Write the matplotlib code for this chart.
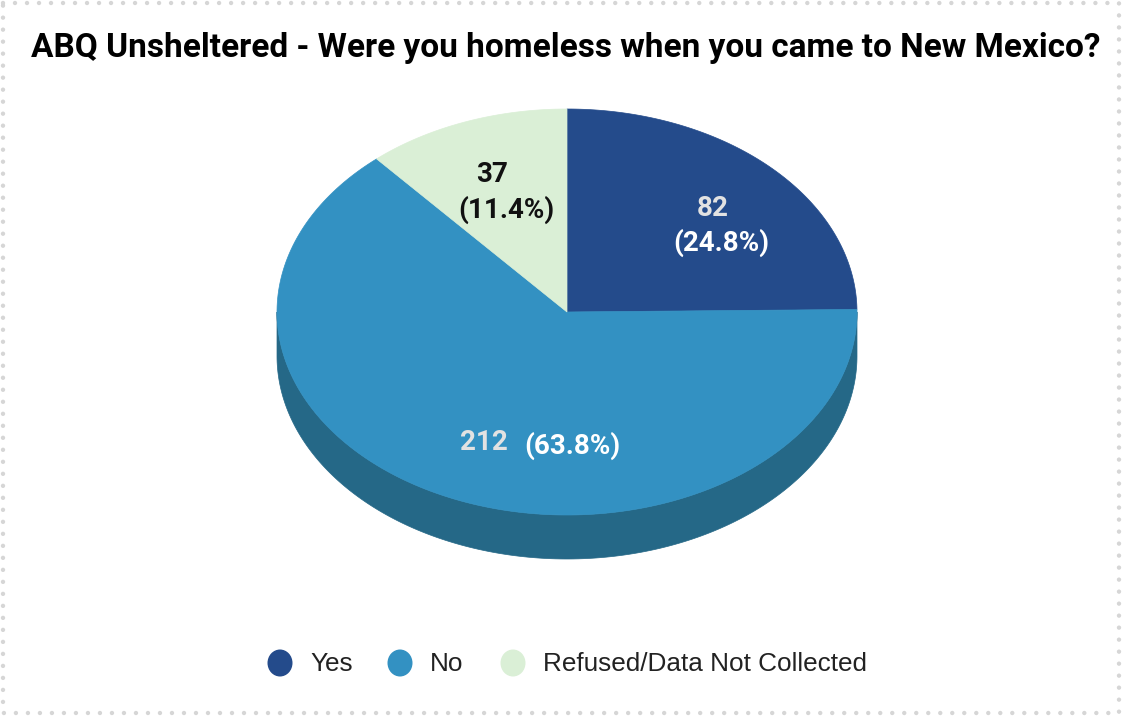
import numpy as np
import matplotlib
matplotlib.use("Agg")
import matplotlib.pyplot as plt
from matplotlib.patches import Polygon, Rectangle, Ellipse

# Survey responses
categories = ["Yes", "No", "Refused/Data Not Collected"]
counts = [82, 212, 37]
percents = [24.8, 63.8, 11.4]
top_colors = ["#244B8B", "#3391C2", "#DAEFD6"]
side_colors = ["#1B3A6C", "#256887", "#A9C2A6"]
value_colors = ["#E2E2E2", "#E2E2E2", "#111111"]
pct_colors = ["#FFFFFF", "#FFFFFF", "#111111"]

W, H = 1122, 717
fig = plt.figure(figsize=(W / 100, H / 100), dpi=100)
ax = fig.add_axes([0, 0, 1, 1])
ax.set_xlim(0, W)
ax.set_ylim(H, 0)
ax.axis("off")

# dotted frame
frame = Rectangle((3, 3), W - 6, H - 7, fill=False, edgecolor="#D6D6D6",
                  linewidth=3.2, linestyle=(0, (0.001, 2.7)))
frame.set_capstyle("round")
ax.add_patch(frame)

ax.text(566, 48, "ABQ Unsheltered - Were you homeless when you came to New Mexico?",
        ha="center", va="center", fontsize=24, fontweight="bold",
        family="Roboto", color="#000000")

# tilted pie geometry (pixels)
cx, cy = 567, 312
rx, ry = 290, 203
depth = 44


def arc(a0, a1, dy=0.0, n=200):
    th = np.linspace(a0, a1, n)
    t = np.radians(th)
    return np.column_stack([cx + rx * np.cos(t), cy - ry * np.sin(t) + dy])


# slice angular spans, clockwise from 12 o'clock
spans = []
start = 90.0
for p in percents:
    end = start - p / 100 * 360
    spans.append((end, start))
    start = end

# side walls on the visible front half (180..360 degrees)
for (a_end, a_start), sc in zip(spans, side_colors):
    for k in (-2, -1, 0, 1):
        lo = max(a_end, -180 + 360 * k)
        hi = min(a_start, 0 + 360 * k)
        if hi > lo:
            top = arc(lo, hi)
            bot = arc(hi, lo, dy=depth)
            ax.add_patch(Polygon(np.vstack([top, bot]), closed=True,
                                 facecolor=sc, edgecolor=sc, linewidth=0.5))

# top faces
for (a_end, a_start), tc in zip(spans, top_colors):
    pts = np.vstack([[cx, cy], arc(a_start, a_end)])
    ax.add_patch(Polygon(pts, closed=True, facecolor=tc, edgecolor=tc,
                         linewidth=0.5))

# slice labels
lab_kw = dict(ha="center", va="center", fontsize=20, fontweight="bold",
              family="Roboto")
value_pos = [(713, 208), (484, 443), (492, 174)]
pct_pos = [(721, 243), (572, 446), (506, 210)]
for i in range(len(counts)):
    ax.text(*value_pos[i], f"{counts[i]}", color=value_colors[i], **lab_kw)
    ax.text(*pct_pos[i], f"({percents[i]:.1f}%)", color=pct_colors[i], **lab_kw)

# legend
leg_x = [280, 400, 513]
for x, c, name in zip(leg_x, top_colors, categories):
    ax.add_patch(Ellipse((x, 663), 25, 27, facecolor=c, edgecolor="none"))
    ax.text(x + 30, 664, name, ha="left", va="center", fontsize=18.8,
            family="Liberation Sans", color="#222222")

fig.savefig("out.png", dpi=100)
